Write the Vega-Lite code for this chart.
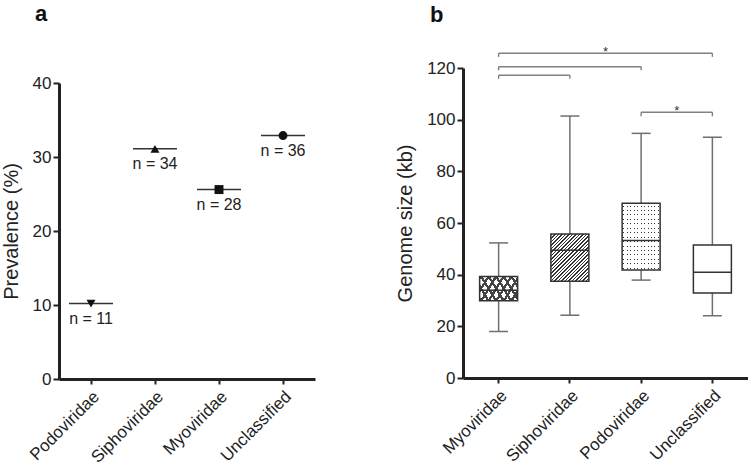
{
  "$schema": "https://vega.github.io/schema/vega-lite/v6.json",
  "padding": {"left": 1, "top": 3, "right": 0, "bottom": 0},
  "background": "white",
  "spacing": 80,
  "config": {
    "font": "Liberation Sans",
    "view": {"stroke": null},
    "axis": {"domainColor": "#222", "domainWidth": 3, "tickColor": "#222", "tickWidth": 2, "tickSize": 6, "labelFont": "Liberation Sans", "labelFontSize": 17, "labelColor": "#222", "titleFont": "Liberation Sans", "titleFontSize": 20, "titleFontWeight": "normal", "titleColor": "#222", "grid": false, "labelPadding": 2, "titlePadding": 11},
    "title": {"font": "Liberation Sans", "fontSize": 22, "fontWeight": "bold", "anchor": "start", "frame": "group", "color": "#111", "baseline": "alphabetic"}
  },
  "datasets": {
    "prev": [
      {"family": "Podoviridae", "prevalence": 10.2, "n": "n = 11"},
      {"family": "Siphoviridae", "prevalence": 31.1, "n": "n = 34"},
      {"family": "Myoviridae", "prevalence": 25.6, "n": "n = 28"},
      {"family": "Unclassified", "prevalence": 32.9, "n": "n = 36"}
    ],
    "boxes": [
      {"family": "Myoviridae", "min": 18, "q1": 29.9, "median": 34, "q3": 39.3, "max": 52.3},
      {"family": "Siphoviridae", "min": 24.3, "q1": 37.5, "median": 49.5, "q3": 55.7, "max": 101.4},
      {"family": "Podoviridae", "min": 37.9, "q1": 41.8, "median": 53.2, "q3": 67.6, "max": 94.7},
      {"family": "Unclassified", "min": 24.1, "q1": 32.9, "median": 40.9, "q3": 51.5, "max": 93.2}
    ],
    "brackets": [
      {"from": "Myoviridae", "to": "Unclassified", "level": 125.7, "tipEnd": 124.3},
      {"from": "Myoviridae", "to": "Podoviridae", "level": 120.5, "tipEnd": 119.1},
      {"from": "Myoviridae", "to": "Siphoviridae", "level": 117.2, "tipEnd": 115.8},
      {"from": "Podoviridae", "to": "Unclassified", "level": 102.9, "tipEnd": 101.3}
    ],
    "stars": [
      {"at": "Siphoviridae", "level": 125.7, "label": "*"},
      {"at": "Podoviridae", "level": 102.9, "label": "*"}
    ]
  },
  "hconcat": [
    {
      "width": 256,
      "height": 311,
      "title": {"text": "a", "dx": -24, "offset": 42},
      "data": {"name": "prev"},
      "encoding": {
        "x": {"field": "family", "type": "nominal", "sort": null, "title": null,
              "scale": {"type": "band", "paddingInner": 0, "paddingOuter": 0},
              "axis": {"labelAngle": -45, "labelPadding": 4, "tickSize": 5}},
        "y": {"field": "prevalence", "type": "quantitative", "title": "Prevalence (%)",
              "scale": {"domain": [0, 40], "range": [311, 15], "nice": false},
              "axis": {"values": [0, 10, 20, 30, 40]}}
      },
      "layer": [
        {"mark": {"type": "tick", "size": 44, "thickness": 1.5, "color": "#333", "opacity": 1}},
        {"mark": {"type": "point", "filled": true, "color": "#111", "opacity": 1},
         "encoding": {
           "shape": {"field": "family", "type": "nominal", "legend": null,
                     "scale": {"domain": ["Podoviridae", "Siphoviridae", "Myoviridae", "Unclassified"], "range": ["triangle-down", "triangle-up", "square", "circle"]}},
           "size": {"field": "family", "type": "nominal", "legend": null,
                    "scale": {"domain": ["Podoviridae", "Siphoviridae", "Myoviridae", "Unclassified"], "range": [80, 80, 34, 48]}}
         }},
        {"mark": {"type": "text", "baseline": "top", "dy": 7, "fontSize": 16, "color": "#222"},
         "encoding": {"text": {"field": "n"}}}
      ]
    },
    {
      "width": 285,
      "height": 310,
      "title": {"text": "b", "dx": -33, "offset": 19},
      "layer": [
        {"data": {"name": "boxes"},
         "mark": {"type": "rule", "color": "#6f6f6f", "strokeWidth": 1.5},
         "encoding": {
           "x": {"field": "family", "type": "nominal", "title": null,
                 "scale": {"domain": ["Myoviridae", "Siphoviridae", "Podoviridae", "Unclassified"], "paddingInner": 0, "paddingOuter": 0},
                 "axis": {"labelAngle": -45, "labelPadding": 4, "tickSize": 5}},
           "y": {"field": "min", "type": "quantitative", "title": "Genome size (kb)",
                 "scale": {"domain": [0, 120], "nice": false},
                 "axis": {"values": [0, 10, 20, 30, 40, 50, 60, 70, 80, 90, 100, 110, 120], "labelExpr": "datum.value % 20 === 0 ? datum.label : ''"}},
           "y2": {"field": "max"}
         }},
        {"data": {"name": "boxes"},
         "mark": {"type": "tick", "size": 19, "thickness": 1.5, "color": "#6f6f6f", "opacity": 1},
         "encoding": {
           "x": {"field": "family", "type": "nominal", "title": null},
           "y": {"field": "min", "type": "quantitative", "title": "Genome size (kb)"}
         }},
        {"data": {"name": "boxes"},
         "mark": {"type": "tick", "size": 19, "thickness": 1.5, "color": "#6f6f6f", "opacity": 1},
         "encoding": {
           "x": {"field": "family", "type": "nominal", "title": null},
           "y": {"field": "max", "type": "quantitative", "title": "Genome size (kb)"}
         }},
        {"data": {"name": "boxes"},
         "transform": [{"filter": "datum.family === 'Myoviridae'"}],
         "mark": {"type": "bar", "size": 38, "fill": {"gradient": "linear", "x1": 0, "y1": 0, "x2": 1.207, "y2": 0.47, "stops": [
           {"offset": 0, "color": "#444"}, {"offset": 0.05, "color": "#444"}, {"offset": 0.05, "color": "#fff"},
           {"offset": 0.1429, "color": "#fff"}, {"offset": 0.1429, "color": "#444"}, {"offset": 0.1929, "color": "#444"}, {"offset": 0.1929, "color": "#fff"},
           {"offset": 0.2857, "color": "#fff"}, {"offset": 0.2857, "color": "#444"}, {"offset": 0.3357, "color": "#444"}, {"offset": 0.3357, "color": "#fff"},
           {"offset": 0.4286, "color": "#fff"}, {"offset": 0.4286, "color": "#444"}, {"offset": 0.4786, "color": "#444"}, {"offset": 0.4786, "color": "#fff"},
           {"offset": 0.5714, "color": "#fff"}, {"offset": 0.5714, "color": "#444"}, {"offset": 0.6214, "color": "#444"}, {"offset": 0.6214, "color": "#fff"},
           {"offset": 0.7143, "color": "#fff"}, {"offset": 0.7143, "color": "#444"}, {"offset": 0.7643, "color": "#444"}, {"offset": 0.7643, "color": "#fff"},
           {"offset": 0.8571, "color": "#fff"}, {"offset": 0.8571, "color": "#444"}, {"offset": 0.9071, "color": "#444"}, {"offset": 0.9071, "color": "#fff"},
           {"offset": 1, "color": "#fff"}]}},
         "encoding": {
           "x": {"field": "family", "type": "nominal", "title": null},
           "y": {"field": "q1", "type": "quantitative", "title": "Genome size (kb)"},
           "y2": {"field": "q3"}
         }},
        {"data": {"name": "boxes"},
         "transform": [{"filter": "datum.family === 'Myoviridae'"}],
         "mark": {"type": "bar", "size": 38, "stroke": "#333", "strokeWidth": 1.5, "fill": {"gradient": "linear", "x1": 0, "y1": 1, "x2": 1.207, "y2": 0.53, "stops": [
           {"offset": 0, "color": "#444"}, {"offset": 0.05, "color": "#444"}, {"offset": 0.05, "color": "rgba(255,255,255,0)"},
           {"offset": 0.1429, "color": "rgba(255,255,255,0)"}, {"offset": 0.1429, "color": "#444"}, {"offset": 0.1929, "color": "#444"}, {"offset": 0.1929, "color": "rgba(255,255,255,0)"},
           {"offset": 0.2857, "color": "rgba(255,255,255,0)"}, {"offset": 0.2857, "color": "#444"}, {"offset": 0.3357, "color": "#444"}, {"offset": 0.3357, "color": "rgba(255,255,255,0)"},
           {"offset": 0.4286, "color": "rgba(255,255,255,0)"}, {"offset": 0.4286, "color": "#444"}, {"offset": 0.4786, "color": "#444"}, {"offset": 0.4786, "color": "rgba(255,255,255,0)"},
           {"offset": 0.5714, "color": "rgba(255,255,255,0)"}, {"offset": 0.5714, "color": "#444"}, {"offset": 0.6214, "color": "#444"}, {"offset": 0.6214, "color": "rgba(255,255,255,0)"},
           {"offset": 0.7143, "color": "rgba(255,255,255,0)"}, {"offset": 0.7143, "color": "#444"}, {"offset": 0.7643, "color": "#444"}, {"offset": 0.7643, "color": "rgba(255,255,255,0)"},
           {"offset": 0.8571, "color": "rgba(255,255,255,0)"}, {"offset": 0.8571, "color": "#444"}, {"offset": 0.9071, "color": "#444"}, {"offset": 0.9071, "color": "rgba(255,255,255,0)"},
           {"offset": 1, "color": "rgba(255,255,255,0)"}]}},
         "encoding": {
           "x": {"field": "family", "type": "nominal", "title": null},
           "y": {"field": "q1", "type": "quantitative", "title": "Genome size (kb)"},
           "y2": {"field": "q3"}
         }},
        {"data": {"name": "boxes"},
         "transform": [{"filter": "datum.family === 'Siphoviridae'"}],
         "mark": {"type": "bar", "size": 38, "stroke": "#333", "strokeWidth": 1.5, "fill": {"gradient": "linear", "x1": 0, "y1": 0, "x2": 0.884, "y2": 1.094, "stops": [
           {"offset": 0, "color": "#333"}, {"offset": 0.018, "color": "#333"}, {"offset": 0.018, "color": "#fff"},
           {"offset": 0.0417, "color": "#fff"}, {"offset": 0.0417, "color": "#333"}, {"offset": 0.0597, "color": "#333"}, {"offset": 0.0597, "color": "#fff"},
           {"offset": 0.0833, "color": "#fff"}, {"offset": 0.0833, "color": "#333"}, {"offset": 0.1013, "color": "#333"}, {"offset": 0.1013, "color": "#fff"},
           {"offset": 0.125, "color": "#fff"}, {"offset": 0.125, "color": "#333"}, {"offset": 0.143, "color": "#333"}, {"offset": 0.143, "color": "#fff"},
           {"offset": 0.1667, "color": "#fff"}, {"offset": 0.1667, "color": "#333"}, {"offset": 0.1847, "color": "#333"}, {"offset": 0.1847, "color": "#fff"},
           {"offset": 0.2083, "color": "#fff"}, {"offset": 0.2083, "color": "#333"}, {"offset": 0.2263, "color": "#333"}, {"offset": 0.2263, "color": "#fff"},
           {"offset": 0.25, "color": "#fff"}, {"offset": 0.25, "color": "#333"}, {"offset": 0.268, "color": "#333"}, {"offset": 0.268, "color": "#fff"},
           {"offset": 0.2917, "color": "#fff"}, {"offset": 0.2917, "color": "#333"}, {"offset": 0.3097, "color": "#333"}, {"offset": 0.3097, "color": "#fff"},
           {"offset": 0.3333, "color": "#fff"}, {"offset": 0.3333, "color": "#333"}, {"offset": 0.3513, "color": "#333"}, {"offset": 0.3513, "color": "#fff"},
           {"offset": 0.375, "color": "#fff"}, {"offset": 0.375, "color": "#333"}, {"offset": 0.393, "color": "#333"}, {"offset": 0.393, "color": "#fff"},
           {"offset": 0.4167, "color": "#fff"}, {"offset": 0.4167, "color": "#333"}, {"offset": 0.4347, "color": "#333"}, {"offset": 0.4347, "color": "#fff"},
           {"offset": 0.4583, "color": "#fff"}, {"offset": 0.4583, "color": "#333"}, {"offset": 0.4763, "color": "#333"}, {"offset": 0.4763, "color": "#fff"},
           {"offset": 0.5, "color": "#fff"}, {"offset": 0.5, "color": "#333"}, {"offset": 0.518, "color": "#333"}, {"offset": 0.518, "color": "#fff"},
           {"offset": 0.5417, "color": "#fff"}, {"offset": 0.5417, "color": "#333"}, {"offset": 0.5597, "color": "#333"}, {"offset": 0.5597, "color": "#fff"},
           {"offset": 0.5833, "color": "#fff"}, {"offset": 0.5833, "color": "#333"}, {"offset": 0.6013, "color": "#333"}, {"offset": 0.6013, "color": "#fff"},
           {"offset": 0.625, "color": "#fff"}, {"offset": 0.625, "color": "#333"}, {"offset": 0.643, "color": "#333"}, {"offset": 0.643, "color": "#fff"},
           {"offset": 0.6667, "color": "#fff"}, {"offset": 0.6667, "color": "#333"}, {"offset": 0.6847, "color": "#333"}, {"offset": 0.6847, "color": "#fff"},
           {"offset": 0.7083, "color": "#fff"}, {"offset": 0.7083, "color": "#333"}, {"offset": 0.7263, "color": "#333"}, {"offset": 0.7263, "color": "#fff"},
           {"offset": 0.75, "color": "#fff"}, {"offset": 0.75, "color": "#333"}, {"offset": 0.768, "color": "#333"}, {"offset": 0.768, "color": "#fff"},
           {"offset": 0.7917, "color": "#fff"}, {"offset": 0.7917, "color": "#333"}, {"offset": 0.8097, "color": "#333"}, {"offset": 0.8097, "color": "#fff"},
           {"offset": 0.8333, "color": "#fff"}, {"offset": 0.8333, "color": "#333"}, {"offset": 0.8513, "color": "#333"}, {"offset": 0.8513, "color": "#fff"},
           {"offset": 0.875, "color": "#fff"}, {"offset": 0.875, "color": "#333"}, {"offset": 0.893, "color": "#333"}, {"offset": 0.893, "color": "#fff"},
           {"offset": 0.9167, "color": "#fff"}, {"offset": 0.9167, "color": "#333"}, {"offset": 0.9347, "color": "#333"}, {"offset": 0.9347, "color": "#fff"},
           {"offset": 0.9583, "color": "#fff"}, {"offset": 0.9583, "color": "#333"}, {"offset": 0.9763, "color": "#333"}, {"offset": 0.9763, "color": "#fff"},
           {"offset": 1, "color": "#fff"}]}},
         "encoding": {
           "x": {"field": "family", "type": "nominal", "title": null},
           "y": {"field": "q1", "type": "quantitative", "title": "Genome size (kb)"},
           "y2": {"field": "q3"}
         }},
        {"data": {"name": "boxes"},
         "transform": [{"filter": "datum.family === 'Podoviridae'"}],
         "mark": {"type": "bar", "size": 38, "fill": {"gradient": "linear", "x1": 0, "y1": 0, "x2": 0, "y2": 1, "stops": [
           {"offset": 0, "color": "#fff"},
           {"offset": 0.0333, "color": "#fff"}, {"offset": 0.0333, "color": "#333"}, {"offset": 0.0483, "color": "#333"}, {"offset": 0.0483, "color": "#fff"},
           {"offset": 0.1, "color": "#fff"}, {"offset": 0.1, "color": "#333"}, {"offset": 0.115, "color": "#333"}, {"offset": 0.115, "color": "#fff"},
           {"offset": 0.1667, "color": "#fff"}, {"offset": 0.1667, "color": "#333"}, {"offset": 0.1817, "color": "#333"}, {"offset": 0.1817, "color": "#fff"},
           {"offset": 0.2333, "color": "#fff"}, {"offset": 0.2333, "color": "#333"}, {"offset": 0.2483, "color": "#333"}, {"offset": 0.2483, "color": "#fff"},
           {"offset": 0.3, "color": "#fff"}, {"offset": 0.3, "color": "#333"}, {"offset": 0.315, "color": "#333"}, {"offset": 0.315, "color": "#fff"},
           {"offset": 0.3667, "color": "#fff"}, {"offset": 0.3667, "color": "#333"}, {"offset": 0.3817, "color": "#333"}, {"offset": 0.3817, "color": "#fff"},
           {"offset": 0.4333, "color": "#fff"}, {"offset": 0.4333, "color": "#333"}, {"offset": 0.4483, "color": "#333"}, {"offset": 0.4483, "color": "#fff"},
           {"offset": 0.5, "color": "#fff"}, {"offset": 0.5, "color": "#333"}, {"offset": 0.515, "color": "#333"}, {"offset": 0.515, "color": "#fff"},
           {"offset": 0.5667, "color": "#fff"}, {"offset": 0.5667, "color": "#333"}, {"offset": 0.5817, "color": "#333"}, {"offset": 0.5817, "color": "#fff"},
           {"offset": 0.6333, "color": "#fff"}, {"offset": 0.6333, "color": "#333"}, {"offset": 0.6483, "color": "#333"}, {"offset": 0.6483, "color": "#fff"},
           {"offset": 0.7, "color": "#fff"}, {"offset": 0.7, "color": "#333"}, {"offset": 0.715, "color": "#333"}, {"offset": 0.715, "color": "#fff"},
           {"offset": 0.7667, "color": "#fff"}, {"offset": 0.7667, "color": "#333"}, {"offset": 0.7817, "color": "#333"}, {"offset": 0.7817, "color": "#fff"},
           {"offset": 0.8333, "color": "#fff"}, {"offset": 0.8333, "color": "#333"}, {"offset": 0.8483, "color": "#333"}, {"offset": 0.8483, "color": "#fff"},
           {"offset": 0.9, "color": "#fff"}, {"offset": 0.9, "color": "#333"}, {"offset": 0.915, "color": "#333"}, {"offset": 0.915, "color": "#fff"},
           {"offset": 0.9667, "color": "#fff"}, {"offset": 0.9667, "color": "#333"}, {"offset": 0.9817, "color": "#333"}, {"offset": 0.9817, "color": "#fff"},
           {"offset": 1, "color": "#fff"}]}},
         "encoding": {
           "x": {"field": "family", "type": "nominal", "title": null},
           "y": {"field": "q1", "type": "quantitative", "title": "Genome size (kb)"},
           "y2": {"field": "q3"}
         }},
        {"data": {"name": "boxes"},
         "transform": [{"filter": "datum.family === 'Podoviridae'"}],
         "mark": {"type": "bar", "size": 38, "stroke": "#333", "strokeWidth": 1.5, "fill": {"gradient": "linear", "x1": 0, "y1": 0, "x2": 1, "y2": 0, "stops": [
           {"offset": 0, "color": "#fff"},
           {"offset": 0.0325, "color": "#fff"}, {"offset": 0.0325, "color": "rgba(255,255,255,0)"}, {"offset": 0.0585, "color": "rgba(255,255,255,0)"}, {"offset": 0.0585, "color": "#fff"},
           {"offset": 0.1234, "color": "#fff"}, {"offset": 0.1234, "color": "rgba(255,255,255,0)"}, {"offset": 0.1494, "color": "rgba(255,255,255,0)"}, {"offset": 0.1494, "color": "#fff"},
           {"offset": 0.2143, "color": "#fff"}, {"offset": 0.2143, "color": "rgba(255,255,255,0)"}, {"offset": 0.2403, "color": "rgba(255,255,255,0)"}, {"offset": 0.2403, "color": "#fff"},
           {"offset": 0.3052, "color": "#fff"}, {"offset": 0.3052, "color": "rgba(255,255,255,0)"}, {"offset": 0.3312, "color": "rgba(255,255,255,0)"}, {"offset": 0.3312, "color": "#fff"},
           {"offset": 0.3961, "color": "#fff"}, {"offset": 0.3961, "color": "rgba(255,255,255,0)"}, {"offset": 0.4221, "color": "rgba(255,255,255,0)"}, {"offset": 0.4221, "color": "#fff"},
           {"offset": 0.487, "color": "#fff"}, {"offset": 0.487, "color": "rgba(255,255,255,0)"}, {"offset": 0.513, "color": "rgba(255,255,255,0)"}, {"offset": 0.513, "color": "#fff"},
           {"offset": 0.5779, "color": "#fff"}, {"offset": 0.5779, "color": "rgba(255,255,255,0)"}, {"offset": 0.6039, "color": "rgba(255,255,255,0)"}, {"offset": 0.6039, "color": "#fff"},
           {"offset": 0.6688, "color": "#fff"}, {"offset": 0.6688, "color": "rgba(255,255,255,0)"}, {"offset": 0.6948, "color": "rgba(255,255,255,0)"}, {"offset": 0.6948, "color": "#fff"},
           {"offset": 0.7597, "color": "#fff"}, {"offset": 0.7597, "color": "rgba(255,255,255,0)"}, {"offset": 0.7857, "color": "rgba(255,255,255,0)"}, {"offset": 0.7857, "color": "#fff"},
           {"offset": 0.8506, "color": "#fff"}, {"offset": 0.8506, "color": "rgba(255,255,255,0)"}, {"offset": 0.8766, "color": "rgba(255,255,255,0)"}, {"offset": 0.8766, "color": "#fff"},
           {"offset": 0.9415, "color": "#fff"}, {"offset": 0.9415, "color": "rgba(255,255,255,0)"}, {"offset": 0.9675, "color": "rgba(255,255,255,0)"}, {"offset": 0.9675, "color": "#fff"},
           {"offset": 1, "color": "#fff"}]}},
         "encoding": {
           "x": {"field": "family", "type": "nominal", "title": null},
           "y": {"field": "q1", "type": "quantitative", "title": "Genome size (kb)"},
           "y2": {"field": "q3"}
         }},
        {"data": {"name": "boxes"},
         "transform": [{"filter": "datum.family === 'Unclassified'"}],
         "mark": {"type": "bar", "size": 38, "stroke": "#333", "strokeWidth": 1.5, "fill": "#fff"},
         "encoding": {
           "x": {"field": "family", "type": "nominal", "title": null},
           "y": {"field": "q1", "type": "quantitative", "title": "Genome size (kb)"},
           "y2": {"field": "q3"}
         }},
        {"data": {"name": "boxes"},
         "mark": {"type": "tick", "size": 38, "thickness": 1.5, "color": "#333", "opacity": 1},
         "encoding": {
           "x": {"field": "family", "type": "nominal", "title": null},
           "y": {"field": "median", "type": "quantitative", "title": "Genome size (kb)"}
         }},
        {"data": {"name": "brackets"},
         "mark": {"type": "rule", "color": "#808080", "strokeWidth": 1.4},
         "encoding": {
           "x": {"field": "from", "type": "nominal", "title": null},
           "x2": {"field": "to"},
           "y": {"field": "level", "type": "quantitative", "title": "Genome size (kb)"}
         }},
        {"data": {"name": "brackets"},
         "mark": {"type": "rule", "color": "#808080", "strokeWidth": 1.4},
         "encoding": {
           "x": {"field": "from", "type": "nominal", "title": null},
           "y": {"field": "level", "type": "quantitative", "title": "Genome size (kb)"},
           "y2": {"field": "tipEnd"}
         }},
        {"data": {"name": "brackets"},
         "mark": {"type": "rule", "color": "#808080", "strokeWidth": 1.4},
         "encoding": {
           "x": {"field": "to", "type": "nominal", "title": null},
           "y": {"field": "level", "type": "quantitative", "title": "Genome size (kb)"},
           "y2": {"field": "tipEnd"}
         }},
        {"data": {"name": "stars"},
         "mark": {"type": "text", "fontSize": 13, "baseline": "alphabetic", "dy": 3, "color": "#333"},
         "encoding": {
           "x": {"field": "at", "type": "nominal", "bandPosition": 1, "title": null},
           "y": {"field": "level", "type": "quantitative", "title": "Genome size (kb)"},
           "text": {"field": "label"}
         }}
      ]
    }
  ]
}
